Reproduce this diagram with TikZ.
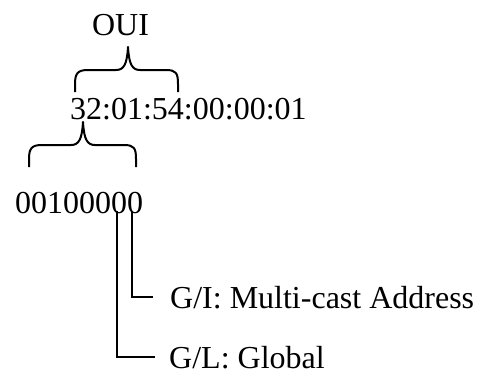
\documentclass[tikz,border=0pt]{standalone}
\usepackage{fontspec}
\setmainfont{Liberation Serif}
\begin{document}
\begin{tikzpicture}[x=1pt,y=-1pt,
  txt/.style={inner sep=0pt, font=\fontsize{32}{38}\selectfont},
  link/.style={line width=2pt},
  bracecurve/.style={line width=2pt, line join=round}]
\useasboundingbox (0,0) rectangle (478,376);
\node[txt, anchor=base] (oui) at (120.5,35) {OUI};
\node[txt, anchor=base west] (mac) at (70,119) {32:01:54:00:00:01};
\node[txt, anchor=base west] (bits) at (15,213) {00100000};
\node[txt, anchor=base west] (gi) at (170,308) {G/I: Multi-cast Address};
\node[txt, anchor=base west] (gl) at (169,368) {G/L: Global};
% OUI brace
\draw[bracecurve] (75,92) -- (75,84) .. controls (75,73) and (78,70) .. (88,70)
  -- (116,70) .. controls (124,70) and (127,64) .. (128,47)
  .. controls (129,64) and (132,70) .. (140,70)
  -- (166,70) .. controls (176,70) and (178,73) .. (178,84) -- (178,92);
% first-octet brace
\draw[bracecurve] (29,167) -- (29,159) .. controls (29,148) and (32,145) .. (42,145)
  -- (71,145) .. controls (79,145) and (82,139) .. (83,122)
  .. controls (84,139) and (87,145) .. (95,145)
  -- (124,145) .. controls (134,145) and (136,148) .. (136,159) -- (136,167);
% bit connectors
\coordinate (b6) at (117,211);
\coordinate (b7) at (132,211);
\draw[link] (b7) |- ([xshift=-17pt]gi.west);
\draw[link] (b6) |- ([xshift=-14pt]gl.west);
\end{tikzpicture}
\end{document}
